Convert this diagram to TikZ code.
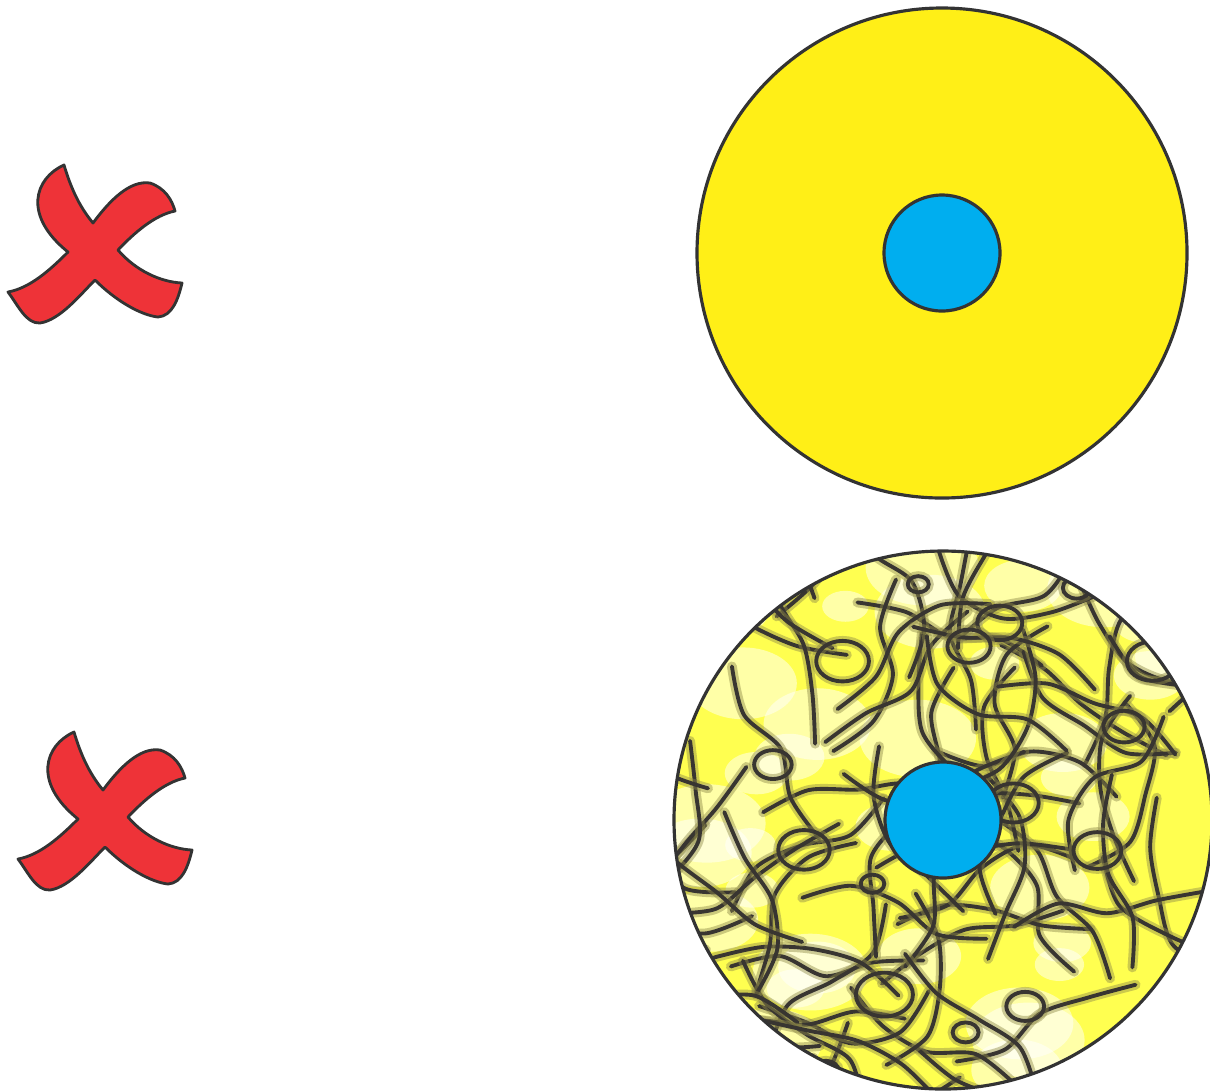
\documentclass[tikz,border=0pt]{standalone}
\usepackage{tikz}
\usetikzlibrary{calc}

\definecolor{discyellow}{HTML}{FFEF17}
\definecolor{coreblue}{HTML}{00AEEF}
\definecolor{crossred}{HTML}{EE3338}
\definecolor{rimgray}{HTML}{333333}
\definecolor{cellbg}{HTML}{FFFF50}

\tikzset{
  rim/.style={draw=rimgray,line width=0.9pt},
  cellhalo/.style={draw=yellow!50!black,line width=2.8pt,opacity=0.45,line cap=round},
  cellwall/.style={draw=black!90!yellow,line width=1.1pt,line cap=round},
}

\begin{document}
\begin{tikzpicture}[x=0.01cm,y=-0.01cm]
  \useasboundingbox (0,0) rectangle (1210,1090);
  \coordinate (topc) at (942,253);
  \coordinate (botc) at (943,820);

  % the two crosses
  \foreach \sx/\sy in {0/0, 10/567}{
    \begin{scope}[shift={(\sx*0.01cm,-\sy*0.01cm)}]
      \filldraw[fill=crossred,draw=rimgray,line width=0.8pt,line join=round]
        (64,165) .. controls (35,178) and (22,215) .. (68,252)
        .. controls (50,270) and (30,288) .. (8,292)
        .. controls (18,305) and (26,324) .. (40,323)
        .. controls (60,320) and (80,295) .. (95,280)
        .. controls (115,300) and (140,315) .. (158,317)
        .. controls (172,316) and (178,300) .. (182,283)
        .. controls (160,282) and (135,270) .. (118,250)
        .. controls (135,232) and (155,215) .. (175,211)
        .. controls (172,200) and (165,188) .. (150,183)
        .. controls (130,180) and (110,200) .. (93,223)
        .. controls (78,205) and (70,185) .. (64,165) -- cycle;
    \end{scope}
  }

  % plain disc
  \filldraw[fill=discyellow,rim] (topc) circle (245);
  \filldraw[fill=coreblue,rim] (topc) circle (58);

  % textured disc
  \begin{scope}
    \clip (botc) circle (269);
    \fill[cellbg] (botc) circle (269);
    \pgfmathsetseed{7}
    \foreach \k in {1,...,40}{
      \pgfmathsetmacro\xa{680+530*rnd}
      \pgfmathsetmacro\ya{550+540*rnd}
      \pgfmathsetmacro\ra{15+25*rnd}
      \fill[white,opacity=0.5] (\xa,\ya) ellipse ({\ra*1.5} and \ra);
    }
    \foreach \k in {1,...,95}{
      \pgfmathsetmacro\xa{660+570*rnd}
      \pgfmathsetmacro\ya{540+560*rnd}
      \pgfmathsetmacro\aa{360*rnd}
      \pgfmathsetmacro\xb{\xa+50*cos(\aa)}
      \pgfmathsetmacro\yb{\ya+50*sin(\aa)}
      \pgfmathsetmacro\ab{\aa+90*rnd-45}
      \pgfmathsetmacro\xc{\xb+50*cos(\ab)}
      \pgfmathsetmacro\yc{\yb+50*sin(\ab)}
      \pgfmathsetmacro\ac{\ab+90*rnd-45}
      \pgfmathsetmacro\xd{\xc+50*cos(\ac)}
      \pgfmathsetmacro\yd{\yc+50*sin(\ac)}
      \pgfmathsetmacro\ad{\ac+90*rnd-45}
      \pgfmathsetmacro\xe{\xd+50*cos(\ad)}
      \pgfmathsetmacro\ye{\yd+50*sin(\ad)}
      \draw[cellhalo] plot[smooth] coordinates {(\xa,\ya) (\xb,\yb) (\xc,\yc) (\xd,\yd) (\xe,\ye)};
      \draw[cellwall] plot[smooth] coordinates {(\xa,\ya) (\xb,\yb) (\xc,\yc) (\xd,\yd) (\xe,\ye)};
    }
    \foreach \k in {1,...,18}{
      \pgfmathsetmacro\xa{690+500*rnd}
      \pgfmathsetmacro\ya{565+510*rnd}
      \pgfmathsetmacro\ra{8+14*rnd}
      \draw[cellhalo] (\xa,\ya) ellipse ({\ra*1.3} and \ra);
      \draw[cellwall] (\xa,\ya) ellipse ({\ra*1.3} and \ra);
    }
  \end{scope}
  \draw[rim] (botc) circle (269);
  \filldraw[fill=coreblue,rim] (botc) circle (58);
\end{tikzpicture}
\end{document}
